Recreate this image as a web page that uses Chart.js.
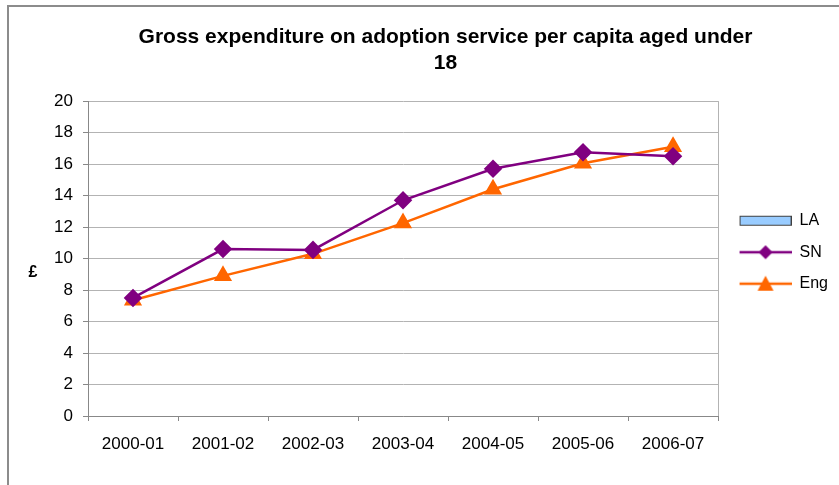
<!DOCTYPE html>
<html lang="en">
<head>
<meta charset="UTF-8">
<title>Gross expenditure on adoption service per capita aged under 18</title>
<script src="https://cdn.jsdelivr.net/npm/chart.js"></script>
<style>
  html, body { margin: 0; padding: 0; background: #fff; overflow: hidden; }
  /* outer chart frame, cut off at right and bottom like the original */
  .frame { position: absolute; left: 7px; top: 5px; width: 900px; height: 600px; border: 2px solid #8c8c8c; }
  .chart-box { position: absolute; left: 0; top: 0; width: 839px; height: 485px; }
</style>
</head>
<body>
<div class="frame"></div>
<div class="chart-box"><canvas id="adoptionChart"></canvas></div>

<script>
  // data
  const years = ['2000-01', '2001-02', '2002-03', '2003-04', '2004-05', '2005-06', '2006-07'];
  const la  = [null, null, null, null, null, null, null];
  const sn  = [7.5, 10.6, 10.55, 13.7, 15.7, 16.75, 16.5];
  const eng = [7.35, 8.9, 10.3, 12.25, 14.4, 16.05, 17.1];
  const yTicks = [0, 2, 4, 6, 8, 10, 12, 14, 16, 18, 20];

  const PURPLE = '#800080';
  const ORANGE = '#ff6600';

  // little canvases for the legend: line + marker like Excel
  // (6px empty on the left so the keys sit where Excel puts them)
  function legendIcon(kind) {
    const c = document.createElement('canvas');
    c.width = 58; c.height = 18;
    const g = c.getContext('2d');
    g.translate(6, 0);
    if (kind === 'bar') {
      g.fillStyle = '#99ccff';
      g.fillRect(0.5, 4.5, 51, 9);
      g.strokeStyle = '#404040';
      g.lineWidth = 1;
      g.strokeRect(0.5, 4.5, 51, 9);
      return c;
    }
    const col = kind === 'diamond' ? PURPLE : ORANGE;
    g.strokeStyle = col;
    g.lineWidth = 2.5;
    g.beginPath(); g.moveTo(0, 9); g.lineTo(52, 9); g.stroke();
    g.fillStyle = col;
    g.beginPath();
    if (kind === 'diamond') {
      g.moveTo(26, 2); g.lineTo(33, 9); g.lineTo(26, 16); g.lineTo(19, 9);
    } else {
      g.moveTo(26, 1); g.lineTo(34, 16); g.lineTo(18, 16);
    }
    g.closePath(); g.fill();
    return c;
  }
  const icons = [legendIcon('bar'), legendIcon('diamond'), legendIcon('triangle')];

  // plot frame on the right + the "£" axis label
  const extras = {
    id: 'extras',
    afterDraw(chart) {
      const { ctx, chartArea } = chart;
      ctx.save();
      ctx.strokeStyle = '#b3b3b3';
      ctx.lineWidth = 1;
      ctx.beginPath();
      ctx.moveTo(Math.round(chartArea.right) + 0.5, chartArea.top);
      ctx.lineTo(Math.round(chartArea.right) + 0.5, chartArea.bottom);
      ctx.stroke();
      ctx.fillStyle = '#000';
      ctx.font = 'bold 16px Arial, "Liberation Sans", sans-serif';
      ctx.textAlign = 'center';
      ctx.textBaseline = 'middle';
      ctx.fillText('£', 33, 273);
      ctx.restore();
    }
  };

  Chart.defaults.font.family = 'Arial, "Liberation Sans", sans-serif';
  Chart.defaults.color = '#000';

  const ctx = document.getElementById('adoptionChart').getContext('2d');
  const adoptionChart = new Chart(ctx, {
    data: {
      labels: years,
      datasets: [
        { type: 'bar', label: 'LA', data: la, backgroundColor: '#99ccff', borderColor: '#404040', borderWidth: 1 },
        {
          type: 'line', label: 'SN', data: sn,
          borderColor: PURPLE, backgroundColor: PURPLE, borderWidth: 2.5,
          pointStyle: 'rectRot', pointRadius: 7.5, pointHoverRadius: 7.5, tension: 0
        },
        {
          type: 'line', label: 'Eng', data: eng,
          borderColor: ORANGE, backgroundColor: ORANGE, borderWidth: 2.5,
          pointStyle: 'triangle', pointRadius: 8, pointHoverRadius: 8, tension: 0
        }
      ]
    },
    options: {
      responsive: true,
      maintainAspectRatio: false,
      animation: false,
      layout: { padding: { left: 53, right: 1, top: 0, bottom: 0 } },
      plugins: {
        title: {
          display: true,
          text: ['Gross expenditure on adoption service per capita aged under', '18'],
          font: { size: 21, weight: 'bold', lineHeight: 1.24 },
          padding: { top: 24, bottom: 25 },
          color: '#000'
        },
        legend: {
          position: 'right',
          // empty title only pushes the keys down a little
          title: { display: true, text: ' ', font: { size: 12 }, padding: { top: 5, bottom: 0 } },
          labels: {
            usePointStyle: true,
            pointStyleWidth: 58,
            padding: 15.5,
            font: { size: 16 },
            generateLabels(chart) {
              const items = Chart.defaults.plugins.legend.labels.generateLabels(chart);
              items.forEach((it, i) => { it.pointStyle = icons[i]; });
              return items;
            }
          }
        },
        tooltip: { enabled: false }
      },
      scales: {
        x: {
          offset: true,
          grid: { offset: true, drawOnChartArea: false, tickLength: 5, tickColor: '#888' },
          border: { color: '#888', width: 1 },
          ticks: { font: { size: 17 }, padding: 13, maxRotation: 0 },
          afterFit(s) { s.height = 69; }
        },
        y: {
          min: 0,
          max: 20,
          afterBuildTicks(s) { s.ticks = yTicks.map(v => ({ value: v })); },
          grid: { color: '#b3b3b3', tickLength: 5, tickColor: '#888' },
          border: { color: '#888', width: 1 },
          ticks: { font: { size: 17 }, padding: 10 },
          afterFit(s) { s.width = 35; }
        }
      }
    },
    plugins: [extras]
  });
</script>
</body>
</html>
